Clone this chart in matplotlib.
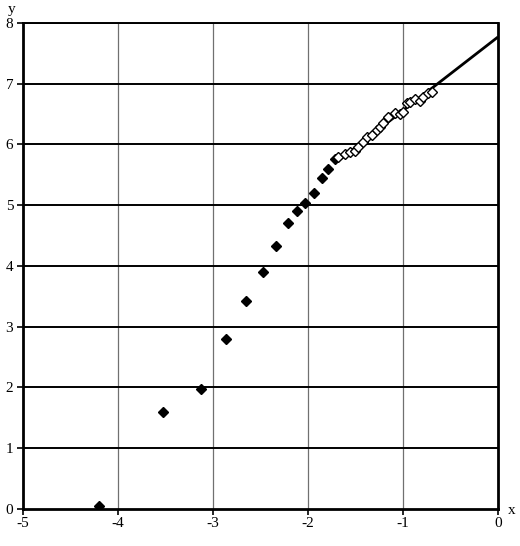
import matplotlib
matplotlib.use("Agg")
import matplotlib.pyplot as plt
import numpy as np

plt.rcParams['font.family'] = ['Liberation Serif', 'DejaVu Serif']

# Filled diamond points
filled_x = [-4.20, -3.53, -3.13, -2.86, -2.65, -2.47, -2.34, -2.21, -2.12, -2.03, -1.94, -1.85, -1.79, -1.72]
filled_y = [0.05, 1.60, 1.98, 2.80, 3.42, 3.90, 4.33, 4.71, 4.91, 5.04, 5.20, 5.45, 5.60, 5.76]

# Open diamond points
open_x = [-1.68, -1.61, -1.56, -1.51, -1.47, -1.42, -1.38, -1.33, -1.27, -1.24, -1.21, -1.16,
          -1.08, -1.03, -1.00, -0.96, -0.93, -0.87, -0.82, -0.79, -0.74, -0.70]
open_y = [5.79, 5.84, 5.88, 5.89, 5.96, 6.04, 6.12, 6.16, 6.24, 6.29, 6.35, 6.45,
          6.52, 6.50, 6.53, 6.68, 6.70, 6.75, 6.72, 6.78, 6.85, 6.86]

# Fitted line endpoints
line_x = [-1.70, 0.0]
line_y = [5.71, 7.77]

x_ticks = [-5, -4, -3, -2, -1, 0]
y_ticks = [0, 1, 2, 3, 4, 5, 6, 7, 8]

fig = plt.figure(figsize=(5.2, 5.46), dpi=100)
ax = fig.add_axes([0.0442, 0.0678, 0.9135, 0.8901])
ax.set_xlim(-5, 0)
ax.set_ylim(0, 8)

for xv in x_ticks[1:-1]:
    ax.axvline(xv, color='#707070', lw=0.9, zorder=1)
for yv in y_ticks[1:]:
    ax.axhline(yv, color='black', lw=1.4, zorder=1)

ax.plot(line_x, line_y, color='black', lw=2.0, zorder=2, solid_capstyle='butt')
ax.plot(filled_x, filled_y, linestyle='none', marker='D', markersize=5,
        color='black', zorder=3)
ax.plot(open_x, open_y, linestyle='none', marker='D', markersize=4.6,
        markerfacecolor='white', markeredgecolor='black', markeredgewidth=1.0, zorder=4)

for s in ['left', 'right', 'bottom']:
    ax.spines[s].set_linewidth(2.0)
ax.spines['top'].set_linewidth(1.4)

ax.set_xticks(x_ticks)
ax.set_yticks(y_ticks)
ax.set_xticklabels([str(v) for v in x_ticks])
ax.set_yticklabels([str(v) for v in y_ticks])
ax.tick_params(axis='both', direction='out', length=4, width=1.2, labelsize=11, colors='black')
ax.tick_params(axis='x', pad=2)
ax.tick_params(axis='y', pad=3)

fig.text(512/520, 1 - 511/546, 'x', ha='center', va='center', fontsize=11)
fig.text(12/520, 1 - 9/546, 'y', ha='center', va='center', fontsize=11)

fig.savefig('out.png', dpi=100)
